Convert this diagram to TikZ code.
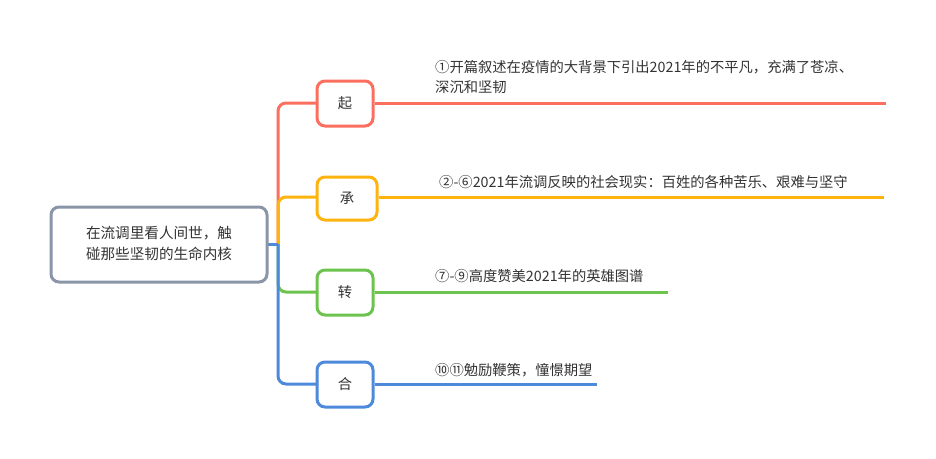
\documentclass[tikz,border=0pt]{standalone}
\usepackage{fontspec}
\setmainfont{Noto Sans CJK SC}
\definecolor{cred}{HTML}{FB6F5F}
\definecolor{corange}{HTML}{FFB30F}
\definecolor{cgreen}{HTML}{6CC34D}
\definecolor{cblue}{HTML}{4D8ADB}
\definecolor{cgray}{HTML}{8A95A8}
\definecolor{ctext}{HTML}{333333}
\begin{document}
\begin{tikzpicture}[x=1pt,y=-1pt,
  rootbox/.style={draw=cgray,line width=3pt,rounded corners=8pt,fill=white,minimum width=216pt,minimum height=75pt,inner sep=0pt},
  topicbox/.style={line width=3pt,rounded corners=8pt,fill=white,minimum width=56pt,minimum height=45pt,inner sep=0pt,font=\fontsize{14.3pt}{16pt}\selectfont,text=ctext},
  conn/.style={line width=3pt,rounded corners=8pt},
  lbl/.style={anchor=base west,inner sep=0pt,font=\fontsize{14.3pt}{16pt}\selectfont,text=ctext}]
\useasboundingbox (0,0) rectangle (936,458);
\coordinate (j) at (278,244);
% connectors
\draw[conn,cred] (j) |- (317,103);
\draw[conn,corange] (j) |- (317,197);
\draw[conn,cgreen] (j) |- (317,292);
\draw[conn,cblue] (j) |- (317,384);
\draw[line width=3pt,cblue] (267,244) -- (j);
% underline lines
\coordinate (e1) at (886,103);
\coordinate (e2) at (884,197);
\coordinate (e3) at (668,292);
\coordinate (e4) at (597,384);
\node[topicbox,draw=cred] (qi) at (345,103.5) {起};
\node[topicbox,draw=corange,minimum width=60pt,minimum height=43pt] (cheng) at (347,198.5) {承};
\node[topicbox,draw=cgreen] (zhuan) at (345,292.5) {转};
\node[topicbox,draw=cblue] (he) at (345,384.5) {合};
\draw[line width=3pt,cred] (qi.east |- e1) -- (e1);
\draw[line width=3pt,corange] (cheng.east |- e2) -- (e2);
\draw[line width=3pt,cgreen] (zhuan.east |- e3) -- (e3);
\draw[line width=3pt,cblue] (he.east |- e4) -- (e4);
% root
\node[rootbox] (root) at (159,244.5) {};
\node[anchor=base,inner sep=0pt,font=\fontsize{14.6pt}{16pt}\selectfont,text=ctext] (r1) at (159,238) {在流调里看人间世，触};
\node[anchor=base,inner sep=0pt,font=\fontsize{14.6pt}{16pt}\selectfont,text=ctext] (r2) at (159,259) {碰那些坚韧的生命内核};
% labels
\node[lbl] (t1a) at (435,72) {①开篇叙述在疫情的大背景下引出2021年的不平凡，充满了苍凉、};
\node[lbl] (t1b) at (435,92) {深沉和坚韧};
\node[lbl] (t2) at (439,187) {②-⑥2021年流调反映的社会现实：百姓的各种苦乐、艰难与坚守};
\node[lbl] (t3) at (435,281) {⑦-⑨高度赞美2021年的英雄图谱};
\node[lbl] (t4) at (435,375) {⑩⑪勉励鞭策，憧憬期望};
\end{tikzpicture}
\end{document}
